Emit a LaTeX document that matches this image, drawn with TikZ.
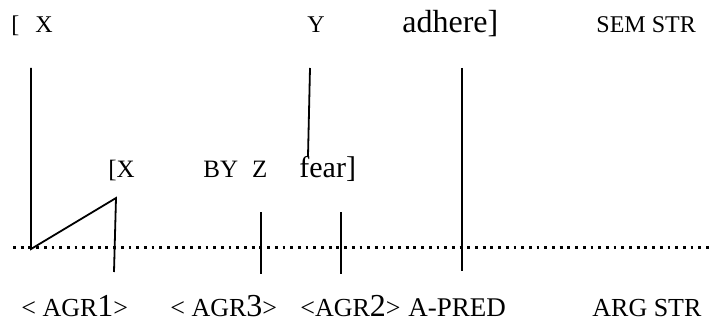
\documentclass[tikz,border=0pt]{standalone}
\usepackage{fontspec}
\setmainfont{Liberation Serif}
\usepackage{tikz}
\usetikzlibrary{positioning}

\newcommand{\bigdig}[1]{{\fontsize{16}{16}\selectfont #1}}

\begin{document}
\begin{tikzpicture}[
x=0.5pt, y=-0.5pt,
word/.style={inner sep=0pt, anchor=base west, font=\fontsize{12}{12}\selectfont},
bigword/.style={word, font=\fontsize{16}{16}\selectfont},
agr/.style={word, font=\fontsize{13}{13}\selectfont},
link/.style={line width=0.9pt},
tier/.style={line width=1.5pt, dash pattern=on 1.4pt off 2.45pt}
]
    \useasboundingbox (0,0) rectangle (712,326);

    % SEM STR row
    \node[word] (semx) at (11,33) {[\hspace{8pt}X};
    \node[word] (semy) at (307,33) {Y};
    \node[bigword] (adhere) at (402,33) {adhere]};
    \node[word] (semstr) at (596,33) {SEM STR};

    % embedded predicate
    \node[word, font=\fontsize{12.5}{12.5}\selectfont] (midx) at (108,177) {[X};
    \node[word, font=\fontsize{12.5}{12.5}\selectfont] (byz) at (203,177) {BY\hspace{7pt}Z};
    \node[bigword, font=\fontsize{15}{15}\selectfont] (fear) at (299,177) {fear]};

    % ARG STR row
    \node[agr] (agr1) at (21,316) {< AGR\bigdig{1}>};
    \node[agr] (agr3) at (170,316) {< AGR\bigdig{3}>};
    \node[agr] (agr2) at (300,316) {<AGR\bigdig{2}>};
    \node[agr, font=\fontsize{13.5}{13.5}\selectfont] (apred) at (408,316) {A-PRED};
    \node[agr] (argstr) at (592,316) {ARG STR};

    \draw
      (31,68) coordinate (x1)
      (31,249) coordinate (x2)
      (116,198) coordinate (x3)
      (114,272) coordinate (x4)
      (310,68) coordinate (y1)
      (308,156) coordinate (y2)
      (462,68) coordinate (p1)
      (462,271) coordinate (p2)
      (261,212) coordinate (z1)
      (261,274) coordinate (z2)
      (341,212) coordinate (f1)
      (341,274) coordinate (f2)
      (13,247) coordinate (t1)
      (712,247) coordinate (t2);

    % dotted tier line
    \draw[tier] (t1) -- (t2);

    % association lines
    \draw[link] (x1) -- (x2) -- (x3) -- (x4);
    \draw[link] (y1) -- (y2);
    \draw[link] (p1) -- (p2);
    \draw[link] (z1) -- (z2);
    \draw[link] (f1) -- (f2);
\end{tikzpicture}
\end{document}
